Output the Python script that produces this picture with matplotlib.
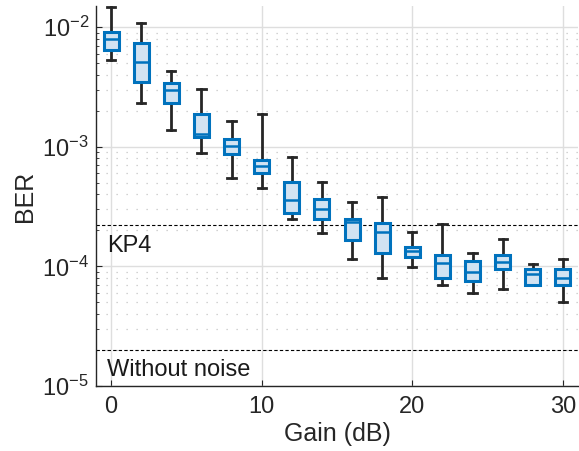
import numpy as np
import matplotlib
matplotlib.use("Agg")
import matplotlib.pyplot as plt
from matplotlib.ticker import LogLocator, NullFormatter, FixedLocator

plt.rcParams['font.family'] = ['Liberation Sans', 'DejaVu Sans']
plt.rcParams['mathtext.default'] = 'regular'

gain = [0, 2, 4, 6, 8, 10, 12, 14, 16, 18, 20, 22, 24, 26, 28, 30]
whis_hi = [0.0148, 0.01086, 0.00429, 0.00301, 0.00163, 0.001875, 0.000824, 0.000509,
           0.000345, 0.000382, 0.000195, 0.000226, 0.000130, 0.000170, 0.000105, 0.000115]
q3 = [0.00908, 0.00731, 0.00340, 0.00186, 0.00117, 0.000778, 0.000507, 0.000363,
      0.000250, 0.000232, 0.000146, 0.000125, 0.000111, 0.000125, 0.0000956, 0.0000956]
med = [0.00794, 0.00507, 0.00299, 0.00127, 0.00101, 0.000689, 0.000358, 0.000300,
       0.000236, 0.000192, 0.000134, 0.000106, 0.0000898, 0.000109, 0.0000857, 0.0000804]
q1 = [0.00642, 0.00347, 0.00232, 0.00120, 0.000864, 0.000605, 0.000279, 0.000247,
      0.000166, 0.000130, 0.000119, 0.0000800, 0.0000750, 0.0000951, 0.0000703, 0.0000703]
whis_lo = [0.00530, 0.00230, 0.00138, 0.00088, 0.000544, 0.000452, 0.000249, 0.000190,
           0.000116, 0.0000800, 0.0000994, 0.0000699, 0.0000603, 0.0000650, 0.0000694, 0.0000501]

kp4 = 2.2e-4
no_noise = 2.0e-5

blue = '#0072BD'
fill = '#d2e3f2'
dark = '#262626'

fig = plt.figure(figsize=(5.79, 4.51), dpi=100)
ax = fig.add_axes([96/579, 1-386/451, (578-96)/579, (386-6)/451])

stats = []
for i in range(len(gain)):
    stats.append(dict(med=med[i], q1=q1[i], q3=q3[i], whislo=whis_lo[i], whishi=whis_hi[i], fliers=[]))

bp = ax.bxp(stats, positions=gain, widths=1.0, patch_artist=True, showfliers=False,
            boxprops=dict(facecolor=fill, edgecolor=blue, linewidth=2.2),
            medianprops=dict(color=blue, linewidth=1.8),
            whiskerprops=dict(color=dark, linewidth=2.0),
            capprops=dict(color=dark, linewidth=2.0), capwidths=0.55,
            manage_ticks=False)
for k in ['boxes', 'medians']:
    for a in bp[k]:
        a.set_zorder(4)
for k in ['whiskers', 'caps']:
    for a in bp[k]:
        a.set_zorder(3)
        a.set_clip_on(False)

ax.axhline(kp4, color='black', linestyle=(0, (3, 2)), linewidth=0.8, zorder=2)
ax.axhline(no_noise, color='black', linestyle=(0, (3, 2)), linewidth=0.8, zorder=2)
ax.text(-0.25, 1.32e-4, 'KP4', fontsize=17, va='baseline', ha='left', color='#1a1a1a')
ax.text(-0.25, 1.21e-5, 'Without noise', fontsize=17, va='baseline', ha='left', color='#1a1a1a')

ax.set_yscale('log')
ax.set_xlim(-1, 31)
ax.set_ylim(1e-5, 0.015)
ax.xaxis.set_major_locator(FixedLocator([0, 10, 20, 30]))
ax.set_xticklabels(['0', '10', '20', '30'])
ax.yaxis.set_major_locator(FixedLocator([1e-5, 1e-4, 1e-3, 1e-2]))
ax.set_yticklabels([r'$10^{-5}$', r'$10^{-4}$', r'$10^{-3}$', r'$10^{-2}$'])
ax.yaxis.set_minor_locator(LogLocator(base=10, subs=np.arange(2, 10), numticks=20))
ax.yaxis.set_minor_formatter(NullFormatter())

ax.grid(True, which='major', color='#dedede', linewidth=1.0, linestyle='-', zorder=0)
ax.grid(True, which='minor', axis='y', color='#c4c4c4', linewidth=0.9, linestyle=(0, (1, 7)), zorder=0)
ax.set_axisbelow(True)

ax.tick_params(which='both', direction='in', labelsize=17, colors='#262626')
ax.tick_params(which='major', length=4, width=0.8)
ax.tick_params(which='minor', length=2.5, width=0.6)
ax.tick_params(axis='x', pad=7)
ax.tick_params(axis='y', pad=5)
ax.spines['top'].set_visible(False)
ax.spines['right'].set_visible(False)
for s in ['left', 'bottom']:
    ax.spines[s].set_color('#262626')
    ax.spines[s].set_linewidth(1.0)

ax.set_xlabel('Gain (dB)', fontsize=18, color='#262626', labelpad=3)
ax.set_ylabel('BER', fontsize=18, color='#262626', labelpad=4)

fig.savefig('out.png', dpi=100)
